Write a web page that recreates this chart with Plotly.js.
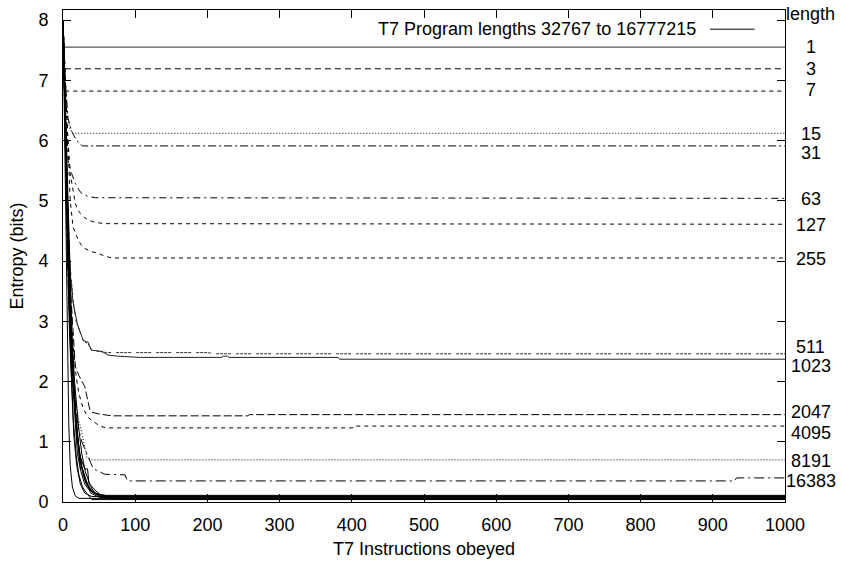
<!DOCTYPE html>
<html>
<head>
<meta charset="utf-8">
<script src="https://cdn.plot.ly/plotly-3.0.1.min.js"></script>
<style>html,body{margin:0;padding:0;background:#fff;}#chart{width:841px;height:561px;}</style>
</head>
<body>
<div id="chart"></div>
<script>
// ---- data ----
const len1_x = [0, 1, 1000];
const len1_y = [8.0, 7.55, 7.55];
const len3_x = [0, 1, 1000];
const len3_y = [8.0, 7.19, 7.19];
const len7_x = [0, 1, 2, 1000];
const len7_y = [8.0, 7.3, 6.82, 6.82];
const len15_x = [0, 2, 5, 9, 14, 1000];
const len15_y = [8.0, 7.1, 6.5, 6.2, 6.12, 6.12];
const len31_x = [0, 3, 7, 12, 17, 22, 27, 1000];
const len31_y = [8.0, 7.0, 6.37, 6.15, 6.04, 5.96, 5.91, 5.91];
const len63_x = [0, 3, 7, 12, 17, 22, 26, 35, 45, 1000];
const len63_y = [8.0, 6.9, 5.67, 5.45, 5.29, 5.18, 5.12, 5.07, 5.05, 5.04];
const len127_x = [0, 3, 6, 10, 14, 17, 20, 24, 30, 35, 45, 58, 1000];
const len127_y = [8.0, 7.0, 6.2, 5.45, 5.15, 4.96, 4.86, 4.79, 4.72, 4.68, 4.64, 4.62, 4.61];
const len255_x = [0, 3, 6, 10, 14, 18, 21, 25, 30, 38, 48, 58, 68, 1000];
const len255_y = [8.0, 7.0, 6.0, 5.0, 4.56, 4.42, 4.35, 4.27, 4.21, 4.16, 4.13, 4.08, 4.05, 4.05];
const len511_x = [0, 3, 6, 10, 14, 18, 24, 28, 35, 40, 50, 60, 200, 210, 1000];
const len511_y = [8.0, 6.6, 5.0, 3.9, 3.36, 3.0, 2.80, 2.68, 2.62, 2.52, 2.50, 2.48, 2.48, 2.46, 2.46];
const len1023_x = [0, 3, 6, 10, 14, 20, 24, 28, 35, 39, 54, 62, 76, 107, 220, 222, 228, 230, 381, 383, 1000];
const len1023_y = [8.0, 6.5, 4.9, 3.8, 3.30, 2.95, 2.80, 2.68, 2.65, 2.52, 2.50, 2.44, 2.42, 2.40, 2.40, 2.42, 2.42, 2.40, 2.40, 2.37, 2.37];
const len2047_x = [0, 3, 6, 10, 14, 17, 22, 30, 37, 40, 50, 58, 68, 256, 258, 1000];
const len2047_y = [8.0, 6.5, 5.0, 3.6, 2.7, 2.25, 2.1, 1.92, 1.54, 1.49, 1.46, 1.45, 1.43, 1.43, 1.45, 1.45];
const len4095_x = [0, 3, 6, 10, 14, 18, 22, 28, 35, 44, 51, 60, 404, 406, 1000];
const len4095_y = [8.0, 6.3, 4.6, 3.4, 2.6, 2.1, 1.8, 1.55, 1.40, 1.32, 1.26, 1.23, 1.23, 1.26, 1.26];
const len8191_x = [0, 3, 6, 10, 14, 18, 22, 26, 30, 33, 40, 1000];
const len8191_y = [8.0, 6.0, 4.2, 3.0, 2.2, 1.7, 1.35, 1.16, 0.93, 0.74, 0.70, 0.70];
const len16383_x = [0, 3, 6, 10, 14, 18, 22, 26, 35, 42, 58, 86, 89, 930, 933, 1000];
const len16383_y = [8.0, 6.0, 4.0, 2.8, 2.0, 1.5, 1.2, 1.0, 0.76, 0.55, 0.46, 0.45, 0.35, 0.35, 0.40, 0.40];

// long programs (32767 .. 16777215), all drawn solid black
const long1_x = [0, 2, 4, 6, 8, 10, 13, 17, 22, 1000];
const long1_y = [8.0, 6.2, 4.0, 2.4, 1.3, 0.6, 0.25, 0.10, 0.06, 0.06];
const long2_x = [0, 3, 6, 9, 12, 15, 19, 24, 30, 40, 1000];
const long2_y = [8.0, 6.0, 4.2, 2.8, 1.8, 1.1, 0.6, 0.3, 0.15, 0.09, 0.09];
const long3_x = [0, 3, 6, 9, 12, 16, 20, 25, 30, 36, 45, 60, 1000];
const long3_y = [8.0, 6.3, 4.6, 3.2, 2.2, 1.4, 0.8, 0.5, 0.3, 0.2, 0.13, 0.11, 0.11];
const long4_x = [0, 4, 8, 12, 16, 20, 24, 28, 32, 40, 50, 65, 1000];
const long4_y = [8.0, 6.0, 4.0, 2.6, 1.7, 1.1, 0.7, 0.45, 0.30, 0.18, 0.12, 0.10, 0.10];
const long5_x = [0, 3, 6, 9, 13, 17, 21, 24, 27, 33, 38, 50, 1000];
const long5_y = [8.0, 6.5, 5.0, 3.6, 2.4, 1.5, 1.0, 0.55, 0.55, 0.35, 0.15, 0.08, 0.08];
const long6_x = [0, 4, 8, 12, 16, 19, 23, 27, 31, 36, 42, 55, 75, 1000];
const long6_y = [8.0, 5.8, 3.9, 2.5, 1.6, 1.1, 0.7, 0.5, 0.35, 0.22, 0.15, 0.08, 0.05, 0.05];
const long7_x = [0, 3, 7, 11, 15, 19, 24, 30, 34, 36, 44, 52, 1000];
const long7_y = [8.0, 6.4, 4.3, 2.8, 1.8, 1.2, 0.75, 0.55, 0.55, 0.3, 0.15, 0.07, 0.07];
const long8_x = [0, 4, 8, 12, 16, 21, 26, 31, 37, 44, 52, 60, 1000];
const long8_y = [8.0, 6.2, 4.3, 2.9, 2.0, 1.3, 0.8, 0.5, 0.3, 0.2, 0.12, 0.09, 0.09];
const long9_x = [0, 2, 5, 8, 11, 14, 18, 22, 27, 33, 40, 1000];
const long9_y = [8.0, 6.8, 5.0, 3.5, 2.3, 1.4, 0.8, 0.45, 0.25, 0.14, 0.04, 0.04];
const long10_x = [0, 3, 6, 10, 14, 18, 22, 26, 30, 36, 45, 56, 70, 1000];
const long10_y = [8.0, 6.6, 5.0, 3.3, 2.2, 1.4, 0.9, 0.6, 0.4, 0.25, 0.15, 0.1, 0.06, 0.06];

// right-hand "length" labels and their heights
const lengthLabels = ["1", "3", "7", "15", "31", "63", "127", "255", "511", "1023", "2047", "4095", "8191", "16383"];
const lengthLabelY = [7.55, 7.19, 6.84, 6.11, 5.79, 5.03, 4.60, 4.04, 2.57, 2.26, 1.49, 1.15, 0.68, 0.35];

const legendText = "T7 Program lengths 32767 to 16777215";
const xTitle = "T7 Instructions obeyed";
const yTitle = "Entropy (bits)";

// ---- traces ----
const FONT = "Liberation Sans, Arial, Helvetica, sans-serif";
function tr(x, y, dash, color, width) {
  return {x: x, y: y, type: "scatter", mode: "lines", showlegend: false, hoverinfo: "skip",
          line: {color: color || "#000", width: width || 1, dash: dash || "solid"}};
}
const traces = [
  tr(len1_x, len1_y, "solid", "#555", 1.3),
  tr(len3_x, len3_y, "6px,4px"),
  tr(len7_x, len7_y, "4px,4px"),
  tr(len15_x, len15_y, "1px,2px"),
  tr(len31_x, len31_y, "8px,3px,2px,3px"),
  tr(len63_x, len63_y, "7px,4px,2px,4px"),
  tr(len127_x, len127_y, "4px,4px"),
  tr(len255_x, len255_y, "4px,4px"),
  tr(len511_x, len511_y, "3px,1px,3px,1px,3px,1px,3px,5px", "#333"),
  tr(len1023_x, len1023_y, "solid", "#222"),
  tr(len2047_x, len2047_y, "8px,3px"),
  tr(len4095_x, len4095_y, "4px,4px"),
  tr(len8191_x, len8191_y, "1px,2px"),
  tr(len16383_x, len16383_y, "10px,4px,2px,4px"),
  tr(long1_x, long1_y), tr(long2_x, long2_y), tr(long3_x, long3_y), tr(long4_x, long4_y),
  tr(long5_x, long5_y), tr(long6_x, long6_y), tr(long7_x, long7_y), tr(long8_x, long8_y),
  tr(long9_x, long9_y), tr(long10_x, long10_y)
];

// ---- annotations ----
const annotations = lengthLabels.map((t, i) => ({
  text: t, xref: "paper", yref: "y", x: 1.036, y: lengthLabelY[i],
  xanchor: "center", yanchor: "middle", showarrow: false,
  font: {family: FONT, size: 18, color: "#000"}
}));
annotations.push({text: "length", xref: "paper", yref: "paper", x: 1.036, y: 0.992,
  xanchor: "center", yanchor: "middle", showarrow: false,
  font: {family: FONT, size: 18, color: "#000"}});
annotations.push({text: legendText, xref: "paper", yref: "paper", x: 0.879, y: 0.961,
  xanchor: "right", yanchor: "middle", showarrow: false,
  font: {family: FONT, size: 18, color: "#000"}});

const layout = {
  width: 841, height: 561,
  margin: {l: 63, r: 56, t: 10, b: 59, pad: 0},
  paper_bgcolor: "#fff", plot_bgcolor: "#fff",
  font: {family: FONT, size: 18, color: "#000"},
  showlegend: false,
  xaxis: {
    range: [0, 1000], dtick: 100, tick0: 0,
    ticks: "inside", ticklen: 8, tickcolor: "#000", tickwidth: 1,
    showline: true, linecolor: "#000", linewidth: 1, mirror: "ticks",
    showgrid: false, zeroline: false,
    tickfont: {family: FONT, size: 18}, ticklabelstandoff: 6,
    title: {text: xTitle, font: {family: FONT, size: 18}, standoff: 8}
  },
  yaxis: {
    range: [0, 8.166], dtick: 1, tick0: 0,
    ticks: "inside", ticklen: 8, tickcolor: "#000", tickwidth: 1,
    showline: true, linecolor: "#000", linewidth: 1, mirror: "ticks",
    showgrid: false, zeroline: false,
    tickfont: {family: FONT, size: 18}, ticklabelstandoff: 10,
    title: {text: yTitle, font: {family: FONT, size: 18}, standoff: 10}
  },
  annotations: annotations,
  shapes: [{type: "line", xref: "paper", yref: "paper", x0: 0.896, x1: 0.958, y0: 0.961, y1: 0.961,
            line: {color: "#000", width: 1}}]
};

Plotly.newPlot("chart", traces, layout, {staticPlot: true, displayModeBar: false});
</script>
</body>
</html>
